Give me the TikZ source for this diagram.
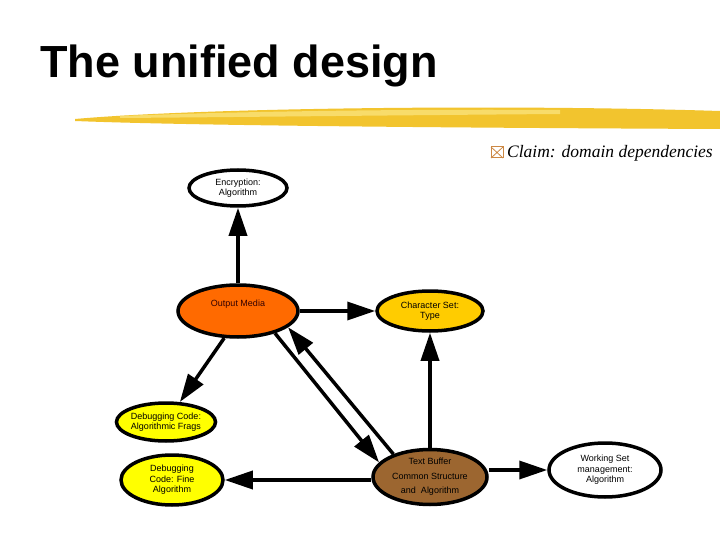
\documentclass[tikz,border=0pt]{standalone}
\usepackage{fontspec}
\setmainfont{Liberation Sans}
\newfontfamily\claimfont{Liberation Serif}
\usepackage{tikz}
\usetikzlibrary{arrows.meta}
\usetikzlibrary{shapes.geometric}
\usetikzlibrary{positioning}

\definecolor{mediaorange}{HTML}{FF6A00}
\definecolor{charyellow}{HTML}{FFCC00}
\definecolor{debugyellow}{HTML}{FFFF00}
\definecolor{bufferbrown}{HTML}{9C6630}
\definecolor{streak}{HTML}{F2C42E}
\definecolor{streaklight}{HTML}{F8DC6A}
\definecolor{claimbox}{HTML}{CC8844}

\begin{document}
\begin{tikzpicture}[x=1pt,y=-1pt]
	\useasboundingbox[fill=white] (0,0) rectangle (720,540);

	% title and yellow streak
	\node[anchor=base west, inner sep=0, font=\fontsize{45}{50}\selectfont\bfseries] (title) at (40,78) {The unified design};
	\fill[streak] (75,119) .. controls (200,108) and (500,104) .. (720,111) -- (720,129) .. controls (500,128) and (200,126) .. (75,121) -- cycle;
	\fill[streaklight] (120,116) .. controls (250,111) and (420,109) .. (560,110) -- (560,114) .. controls (420,115) and (250,117) .. (120,118) -- cycle;

	% claim
	\node[anchor=base west, inner sep=0, font=\claimfont\itshape\fontsize{17.5}{19}\selectfont] (claim) at (507,158) {Claim: domain dependencies};
	\draw[claimbox, line width=1pt] (491,147) rectangle (503,158);
	\draw[claimbox, line width=0.8pt] (491,147) -- (503,158) (503,147) -- (491,158);

	\begin{scope}[every node/.style={ellipse, draw=black, line width=3.5pt, inner sep=0pt,
	              align=center, font=\fontsize{9}{10.5}\selectfont}]
		\node[fill=white, minimum width=98pt, minimum height=36pt] (encrypt) at (238,188) {Encryption:\\ Algorithm};
		\node[fill=mediaorange, minimum width=120pt, minimum height=52pt, text=black!80!red] (media) at (238,311) {Output Media\\[6pt]};
		\node[fill=charyellow, minimum width=106pt, minimum height=40pt] (charset) at (430,311) {Character Set:\\ Type};
		\node[fill=debugyellow, minimum width=92pt, minimum height=38pt] (frags) at (166,422) {Debugging Code:\\Algorithmic Frags};
		\node[fill=debugyellow, minimum width=102pt, minimum height=50pt] (fine) at (172,480) {Debugging\\Code: Fine\\Algorithm};
		\node[fill=bufferbrown, minimum width=114pt, minimum height=55pt, font=\fontsize{9}{14.5}\selectfont] (buffer) at (430,477) {Text Buffer\\Common Structure\\and~~Algorithm};
		\node[fill=white, minimum width=112pt, minimum height=54pt] (workset) at (605,470) {Working Set\\management:\\Algorithm};
	\end{scope}

	\begin{scope}[>={Triangle[length=28pt, width=18pt]},
	              every edge/.style={draw=black, line width=3.5pt}]
		\path (media) edge[->] (encrypt);
		\path (media) edge[->] (charset);
		\path (buffer) edge[->] (charset);
		\path (media.-117) edge[->] (frags);
		\path (media.-31) edge[->] (buffer.164);
		\path (buffer.148) edge[->] (media.-18);
		\path (buffer.west |- fine.east) edge[->] (fine);
		\path (buffer.east |- workset.west) edge[->] (workset);
	\end{scope}
\end{tikzpicture}
\end{document}
